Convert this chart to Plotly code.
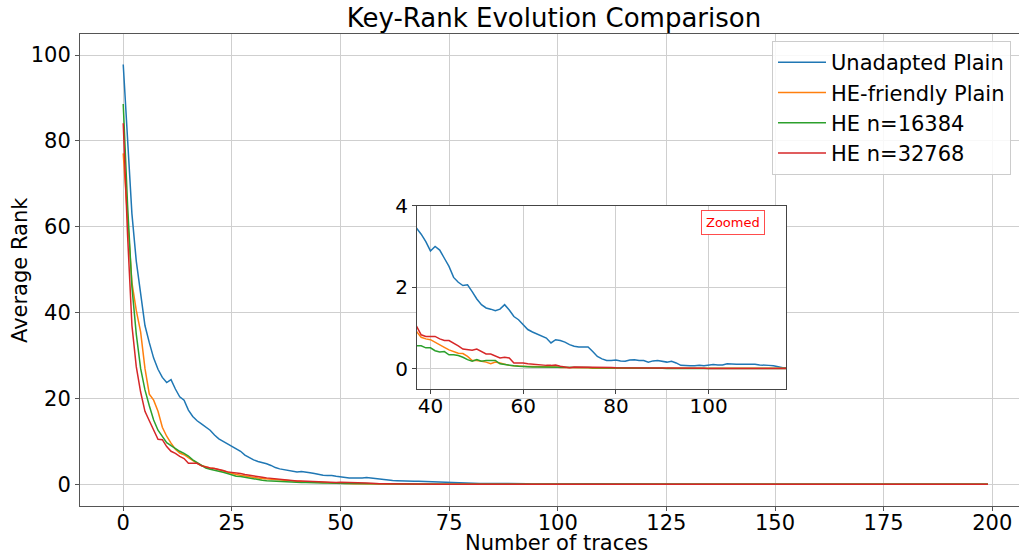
import plotly.graph_objects as go

# ---------------- data ----------------
num_traces = list(range(200))

unadapted_plain = [
    97.8, 80.0, 63.0, 52.0, 44.0, 37.0, 33.0, 29.4, 26.8, 24.9,
    23.7, 24.4, 22.2, 20.4, 19.6, 17.3, 15.8, 14.8, 14.1, 13.3,
    12.6, 11.5, 10.6, 10.0, 9.4, 8.9, 8.2, 7.7, 6.8, 6.2,
    5.7, 5.3, 5.1, 4.8, 4.4, 3.9, 3.6, 3.46, 3.30, 3.12,
    2.89, 3.00, 2.91, 2.71, 2.51, 2.24, 2.12, 2.04, 2.06, 1.89,
    1.71, 1.57, 1.49, 1.46, 1.42, 1.46, 1.57, 1.44, 1.28, 1.20,
    1.08, 0.96, 0.90, 0.85, 0.79, 0.75, 0.63, 0.71, 0.69, 0.65,
    0.59, 0.55, 0.53, 0.53, 0.53, 0.42, 0.30, 0.24, 0.20, 0.20,
    0.21, 0.19, 0.18, 0.21, 0.22, 0.20, 0.20, 0.16, 0.19, 0.20,
    0.18, 0.16, 0.18, 0.14, 0.08, 0.07, 0.07, 0.07, 0.08, 0.07,
    0.08, 0.10, 0.09, 0.09, 0.12, 0.11, 0.11, 0.11, 0.11, 0.12,
    0.11, 0.09, 0.09, 0.08, 0.07, 0.04, 0.02, 0.02, 0.02, 0.01,
    0.01, 0.01, 0, 0, 0, 0, 0, 0, 0, 0,
    0, 0, 0, 0, 0, 0, 0, 0, 0, 0,
    0, 0, 0, 0, 0, 0, 0, 0, 0, 0,
    0, 0, 0, 0, 0, 0, 0, 0, 0, 0,
    0, 0, 0, 0, 0, 0, 0, 0, 0, 0,
    0, 0, 0, 0, 0, 0, 0, 0, 0, 0,
    0, 0, 0, 0, 0, 0, 0, 0, 0, 0,
    0, 0, 0, 0, 0, 0, 0, 0, 0, 0,
]

he_friendly_plain = [
    77.1, 62.0, 47.0, 40.5, 35.5, 27.0, 21.0, 19.6, 17.0, 13.3,
    11.2, 9.6, 8.2, 7.3, 6.9, 6.2, 5.5, 4.9, 4.4, 4.1,
    3.8, 3.7, 3.4, 3.1, 2.8, 2.5, 2.3, 2.1, 1.9, 1.7,
    1.55, 1.45, 1.35, 1.25, 1.15, 1.05, 0.98, 0.91, 0.77, 0.73,
    0.71, 0.64, 0.59, 0.52, 0.46, 0.41, 0.38, 0.37, 0.30, 0.20,
    0.20, 0.18, 0.16, 0.12, 0.16, 0.14, 0.11, 0.08, 0.07, 0.06,
    0.06, 0.05, 0.05, 0.05, 0.04, 0.04, 0.04, 0.04, 0.03, 0.03,
    0.03, 0.03, 0.02, 0.02, 0.02, 0.01, 0.01, 0.01, 0.01, 0.01,
    0.01, 0, 0, 0, 0, 0, 0, 0, 0, 0,
    0, 0, 0, 0, 0, 0, 0, 0, 0, 0,
    0, 0, 0, 0, 0, 0, 0, 0, 0, 0,
    0, 0, 0, 0, 0, 0, 0, 0, 0, 0,
    0, 0, 0, 0, 0, 0, 0, 0, 0, 0,
    0, 0, 0, 0, 0, 0, 0, 0, 0, 0,
    0, 0, 0, 0, 0, 0, 0, 0, 0, 0,
    0, 0, 0, 0, 0, 0, 0, 0, 0, 0,
    0, 0, 0, 0, 0, 0, 0, 0, 0, 0,
    0, 0, 0, 0, 0, 0, 0, 0, 0, 0,
    0, 0, 0, 0, 0, 0, 0, 0, 0, 0,
    0, 0, 0, 0, 0, 0, 0, 0, 0, 0,
]

he_n16384 = [
    88.6, 65.0, 46.0, 35.0, 27.0, 22.0, 18.3, 15.0, 12.6, 11.0,
    9.7, 9.0, 8.3, 7.7, 7.2, 6.6, 5.7, 5.0, 4.3, 3.8,
    3.5, 3.3, 3.0, 2.8, 2.5, 2.2, 1.9, 1.8, 1.6, 1.4,
    1.25, 1.1, 0.95, 0.85, 0.78, 0.70, 0.62, 0.56, 0.56, 0.51,
    0.51, 0.44, 0.41, 0.42, 0.34, 0.34, 0.32, 0.28, 0.22, 0.18,
    0.22, 0.18, 0.20, 0.20, 0.20, 0.12, 0.10, 0.08, 0.07, 0.06,
    0.05, 0.04, 0.04, 0.04, 0.04, 0.03, 0.04, 0.04, 0.03, 0.04,
    0.03, 0.03, 0.04, 0.03, 0.03, 0.02, 0.02, 0.02, 0.02, 0.02,
    0.02, 0.01, 0.01, 0.01, 0.01, 0.01, 0.01, 0.01, 0.01, 0.01,
    0.01, 0, 0, 0, 0, 0, 0, 0, 0, 0,
    0, 0, 0, 0, 0, 0, 0, 0, 0, 0,
    0, 0, 0, 0, 0, 0, 0, 0, 0, 0,
    0, 0, 0, 0, 0, 0, 0, 0, 0, 0,
    0, 0, 0, 0, 0, 0, 0, 0, 0, 0,
    0, 0, 0, 0, 0, 0, 0, 0, 0, 0,
    0, 0, 0, 0, 0, 0, 0, 0, 0, 0,
    0, 0, 0, 0, 0, 0, 0, 0, 0, 0,
    0, 0, 0, 0, 0, 0, 0, 0, 0, 0,
    0, 0, 0, 0, 0, 0, 0, 0, 0, 0,
    0, 0, 0, 0, 0, 0, 0, 0, 0, 0,
]

he_n32768 = [
    84.1, 58.0, 37.0, 27.4, 21.5, 17.0, 14.8, 12.8, 10.5, 10.4,
    8.8, 7.7, 7.2, 6.5, 6.0, 4.9, 4.9, 4.9, 4.3, 4.0,
    3.8, 3.7, 3.5, 3.2, 2.9, 2.8, 2.6, 2.5, 2.3, 2.1,
    1.95, 1.8, 1.65, 1.5, 1.4, 1.25, 1.15, 1.04, 0.83, 0.79,
    0.79, 0.79, 0.73, 0.69, 0.69, 0.63, 0.56, 0.48, 0.47, 0.45,
    0.48, 0.42, 0.36, 0.36, 0.30, 0.26, 0.28, 0.26, 0.14, 0.14,
    0.14, 0.12, 0.11, 0.09, 0.09, 0.08, 0.08, 0.09, 0.06, 0.04,
    0.02, 0.04, 0.04, 0.03, 0.03, 0.03, 0.03, 0.03, 0.03, 0.03,
    0.02, 0.02, 0.02, 0.02, 0.02, 0.02, 0.02, 0.02, 0.02, 0.02,
    0.01, 0.01, 0.01, 0.01, 0.01, 0.01, 0.01, 0.01, 0.01, 0.01,
    0, 0, 0, 0, 0, 0, 0, 0, 0, 0,
    0, 0, 0, 0, 0, 0, 0, 0, 0, 0,
    0, 0, 0, 0, 0, 0, 0, 0, 0, 0,
    0, 0, 0, 0, 0, 0, 0, 0, 0, 0,
    0, 0, 0, 0, 0, 0, 0, 0, 0, 0,
    0, 0, 0, 0, 0, 0, 0, 0, 0, 0,
    0, 0, 0, 0, 0, 0, 0, 0, 0, 0,
    0, 0, 0, 0, 0, 0, 0, 0, 0, 0,
    0, 0, 0, 0, 0, 0, 0, 0, 0, 0,
    0, 0, 0, 0, 0, 0, 0, 0, 0, 0,
]

series_names = ["Unadapted Plain", "HE-friendly Plain", "HE n=16384", "HE n=32768"]
series_values = [unadapted_plain, he_friendly_plain, he_n16384, he_n32768]
series_colors = ["#1f77b4", "#ff7f0e", "#2ca02c", "#d62728"]

main_xticks = [0, 25, 50, 75, 100, 125, 150, 175, 200]
main_yticks = [0, 20, 40, 60, 80, 100]
inset_xticks = [40, 60, 80, 100]
inset_yticks = [0, 2, 4]

main_xrange = [-9.95, 206.15]
main_yrange = [-5.05, 104.9]
inset_xrange = [37.1, 116.7]
inset_yrange = [-0.5, 4.0]

# ---------------- figure ----------------
FONT = "DejaVu Sans"
GRID = "#cfcfcf"

fig = go.Figure()

for name, vals, col in zip(series_names, series_values, series_colors):
    fig.add_trace(go.Scatter(
        x=num_traces, y=vals, mode="lines", name=name,
        line=dict(color=col, width=1.5), legendgroup=name,
        xaxis="x", yaxis="y",
    ))

for name, vals, col in zip(series_names, series_values, series_colors):
    fig.add_trace(go.Scatter(
        x=num_traces, y=vals, mode="lines", name=name,
        line=dict(color=col, width=1.5), legendgroup=name,
        showlegend=False, xaxis="x2", yaxis="y2",
    ))


def axis_style(size, linecolor, standoff=0):
    return dict(
        showgrid=True, gridcolor=GRID, gridwidth=1, zeroline=False,
        showline=True, linewidth=1, linecolor=linecolor,
        ticks="outside", ticklen=4, tickcolor=linecolor,
        ticklabelstandoff=standoff,
        tickfont=dict(family=FONT, size=size, color="black"),
    )


fig.update_layout(
    width=1019, height=554, autosize=False,
    margin=dict(l=80, r=0, t=34, b=48, pad=0),
    paper_bgcolor="white", plot_bgcolor="white",
    font=dict(family=FONT, size=21, color="black"),
    title=dict(
        text="Key-Rank Evolution Comparison",
        x=(554 - 80) / 939, xref="paper", xanchor="center",
        y=1 - 18 / 554, yref="container", yanchor="middle",
        font=dict(family=FONT, size=26, color="black"),
    ),
    xaxis=dict(domain=[0, 1], range=main_xrange, tickvals=main_xticks,
               mirror=True, **axis_style(21, "#555", -6)),
    yaxis=dict(domain=[0, 1], range=main_yrange, tickvals=main_yticks,
               mirror=False, **axis_style(21, "#555")),
    xaxis2=dict(domain=[0.3589, 0.7519], anchor="y2", range=inset_xrange,
                tickvals=inset_xticks, mirror=True,
                **axis_style(20, "#444", -5)),
    yaxis2=dict(domain=[0.2479, 0.6362], anchor="x2", range=inset_yrange,
                tickvals=inset_yticks, mirror=True, **axis_style(20, "#444")),
    legend=dict(
        x=(772 - 80) / 939, y=(506 - 41) / 472, xanchor="left", yanchor="top",
        bgcolor="rgba(255,255,255,0.85)", bordercolor="#cccccc", borderwidth=1,
        font=dict(family=FONT, size=21, color="black"),
        tracegroupgap=0, itemwidth=48,
    ),
    showlegend=True,
    shapes=[
        # white background of the inset so the main grid does not show through
        dict(type="rect", xref="x2", yref="y2",
             x0=inset_xrange[0], x1=inset_xrange[1],
             y0=inset_yrange[0], y1=inset_yrange[1],
             fillcolor="white", line=dict(width=0), layer="below"),
    ],
    annotations=[
        dict(text="Number of traces", xref="paper", yref="paper",
             x=(556 - 80) / 939, y=(506 - 543) / 472, xanchor="center",
             yanchor="middle", showarrow=False,
             font=dict(family=FONT, size=21, color="black")),
        dict(text="Average Rank", xref="paper", yref="paper",
             x=(20 - 80) / 939, y=0.5, xanchor="center", yanchor="middle",
             textangle=-90, showarrow=False,
             font=dict(family=FONT, size=21, color="black")),
        dict(text="Zoomed", xref="paper", yref="paper",
             x=(733 - 80) / 939, y=(506 - 222) / 472, xanchor="center",
             yanchor="middle", showarrow=False,
             font=dict(family=FONT, size=13, color="red"),
             bgcolor="white", bordercolor="rgba(255,0,0,0.7)",
             borderwidth=1, borderpad=4),
    ],
)

fig.write_html(
    "out.html",
    config={"displayModeBar": False},
    post_script="document.body.style.margin='0';document.body.style.overflow='hidden';",
)
